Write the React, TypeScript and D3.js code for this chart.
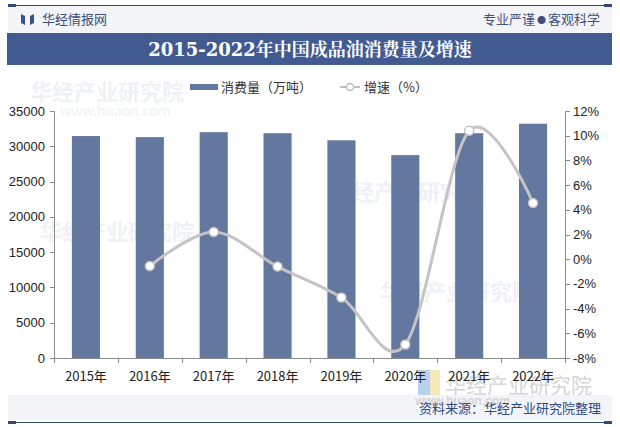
import React from "react";
import * as d3 from "d3";

const categories = ["2015年", "2016年", "2017年", "2018年", "2019年", "2020年", "2021年", "2022年"];
const consumption = [31450, 31300, 32000, 31850, 30850, 28750, 31850, 33200];
const growth = [null, -0.55, 2.2, -0.6, -3.1, -6.9, 10.4, 4.55];
const leftTicks = [0, 5000, 10000, 15000, 20000, 25000, 30000, 35000];
const rightTicks = [-8, -6, -4, -2, 0, 2, 4, 6, 8, 10, 12];

const W = 620, H = 427;
const plotL = 54, plotR = 565, plotT = 111, plotB = 358;
const CJK = "'Noto Sans CJK SC', 'Noto Sans', sans-serif";
const NUM = "'Liberation Sans', Arial, sans-serif";

export default function App() {
  const x = d3.scaleBand<string>().domain(categories).range([plotL, plotR]).paddingInner(0.56).paddingOuter(0.28);
  const xc = d3.scaleBand<string>().domain(categories).range([plotL, plotR]);
  const yL = d3.scaleLinear().domain([0, 35000]).range([plotB, plotT]);
  const yR = d3.scaleLinear().domain([-8, 12]).range([plotB, plotT]);

  const pts = categories
    .map((c, i) => ({ c, v: growth[i] }))
    .filter((d) => d.v !== null) as { c: string; v: number }[];
  const line = d3
    .line<{ c: string; v: number }>()
    .x((d) => (xc(d.c) as number) + xc.bandwidth() / 2)
    .y((d) => yR(d.v))
    .curve(d3.curveCatmullRom.alpha(0));

  const navy = "#33497a";
  const barColor = "#63779f";

  return (
    <svg width={W} height={H} style={{ position: "absolute", left: 0, top: 0 }}>
      <rect width={W} height={H} fill="#ffffff" />
      {/* header */}
      <rect x={8} y={6} width={604} height={27} fill="#f3f4f8" />
      <line x1={8} x2={612} y1={5.5} y2={5.5} stroke={navy} strokeWidth={1} />
      <rect x={8} y={4} width={8} height={3} fill={navy} />
      <rect x={604} y={4} width={8} height={3} fill={navy} />
      <path d="M21,14 L25,16 L25,25 L21,23 Z M30,16 L34,14 L34,23 L30,25 Z" fill="#3a5288" />
      <text x={42} y={23.5} fontFamily={CJK} fontSize={13} fill="#3d4f7c">华经情报网</text>
      <text x={600} y={23.5} textAnchor="end" fontFamily={CJK} fontSize={13} fill="#3d4f7c">
        专业严谨<tspan fontSize={9} dx={2} dy={-1}>●</tspan><tspan dx={2} dy={1}>客观科学</tspan>
      </text>
      <rect x={7} y={33} width={605} height={32} fill="#415b91" />
      <text x={310} y={56} textAnchor="middle" fontFamily="'DejaVu Serif', 'Noto Serif CJK SC', 'Noto Sans CJK SC', serif" fontWeight="bold" fontSize={18} fill="#ffffff">
        2015-2022年中国成品油消费量及增速
      </text>

      {/* watermarks */}
      <g fill="#dfe4ee" opacity={0.5} fontFamily={CJK} fontWeight="bold">
        <text x={30} y={100} fontSize={22}>华经产业研究院</text>
        <text x={60} y={116} fontSize={14} fontWeight="normal">www.huaon.com</text>
        <text x={330} y={200} fontSize={22}>华经产业研究院</text>
        <text x={40} y={240} fontSize={22}>华经产业研究院</text>
        <text x={380} y={300} fontSize={22}>华经产业研究院</text>
      </g>

      {/* legend */}
      <rect x={190} y={84} width={28} height={6} fill={barColor} />
      <text x={221} y={92} fontFamily={CJK} fontSize={13} fill="#333">消费量（万吨）</text>
      <line x1={340} x2={360} y1={87} y2={87} stroke="#bfbfbf" strokeWidth={2} />
      <circle cx={350} cy={87} r={3.5} fill="#fff" stroke="#bfbfbf" strokeWidth={1.5} />
      <text x={364} y={92} fontFamily={CJK} fontSize={13} fill="#333">增速（%）</text>

      {/* bottom-right watermark (behind axis labels) */}
      <rect x={418} y={370} width={12} height={25} fill="#a9c4ee" opacity={0.8} />
      <rect x={430} y={370} width={10} height={25} fill="#f3e3a8" opacity={0.8} />
      <text x={445} y={393} fontFamily={CJK} fontSize={21} fill="#cccccc" opacity={0.8}>华经产业研究院</text>

      {/* bars */}
      {categories.map((c, i) => (
        <rect key={c} x={x(c)} y={yL(consumption[i])} width={x.bandwidth()} height={plotB - yL(consumption[i])} fill={barColor} />
      ))}

      {/* axes */}
      <g stroke="#8c8c8c" strokeWidth={1}>
        <line x1={plotL + 0.5} x2={plotL + 0.5} y1={plotT} y2={plotB} />
        <line x1={plotR + 0.5} x2={plotR + 0.5} y1={plotT} y2={plotB} />
        <line x1={plotL} x2={plotR + 1} y1={plotB + 0.5} y2={plotB + 0.5} />
        {leftTicks.map((t) => (
          <line key={"l" + t} x1={plotL - 4} x2={plotL} y1={Math.round(yL(t)) + 0.5} y2={Math.round(yL(t)) + 0.5} />
        ))}
        {rightTicks.map((t) => (
          <line key={"r" + t} x1={plotR} x2={plotR + 5} y1={Math.round(yR(t)) + 0.5} y2={Math.round(yR(t)) + 0.5} />
        ))}
        {categories.map((c) => (
          <line key={"x" + c} x1={Math.round(xc(c) as number) + 0.5} x2={Math.round(xc(c) as number) + 0.5} y1={plotB} y2={plotB + 5} />
        ))}
        <line x1={plotR + 0.5} x2={plotR + 0.5} y1={plotB} y2={plotB + 5} />
      </g>
      {leftTicks.map((t) => (
        <text key={"lt" + t} x={45} y={yL(t) + 4.5} textAnchor="end" fontFamily={NUM} fontSize={13} fill="#222">{t}</text>
      ))}
      {rightTicks.map((t) => (
        <text key={"rt" + t} x={573} y={yR(t) + 4.5} fontFamily={NUM} fontSize={13} fill="#222">{t + "%"}</text>
      ))}
      {categories.map((c) => (
        <text key={"xt" + c} x={(xc(c) as number) + xc.bandwidth() / 2} y={381} textAnchor="middle" fontFamily={CJK} fontSize={13} fill="#222">{c}</text>
      ))}

      {/* growth line */}
      <path d={line(pts) || ""} fill="none" stroke="#c4c4c4" strokeWidth={3} />
      {pts.map((d) => (
        <circle key={"p" + d.c} cx={(xc(d.c) as number) + xc.bandwidth() / 2} cy={yR(d.v)} r={4.5} fill="#fff" stroke="#c4c4c4" strokeWidth={1.5} />
      ))}

      {/* footer */}
      <rect x={8} y={395} width={604} height={25} fill="#f2f3f7" opacity={0.9} />
      <text x={415} y={405} fontFamily={NUM} fontSize={12} fill="#d6d6d6" fontWeight="bold">www.huaon.com</text>
      <text x={601} y={413} textAnchor="end" fontFamily={CJK} fontSize={13} fill="#2d4a86">资料来源：华经产业研究院整理</text>
      <line x1={8} x2={612} y1={422.5} y2={422.5} stroke={navy} strokeWidth={1} />
      <rect x={8} y={421} width={8} height={3} fill={navy} />
      <rect x={604} y={421} width={8} height={3} fill={navy} />
    </svg>
  );
}
